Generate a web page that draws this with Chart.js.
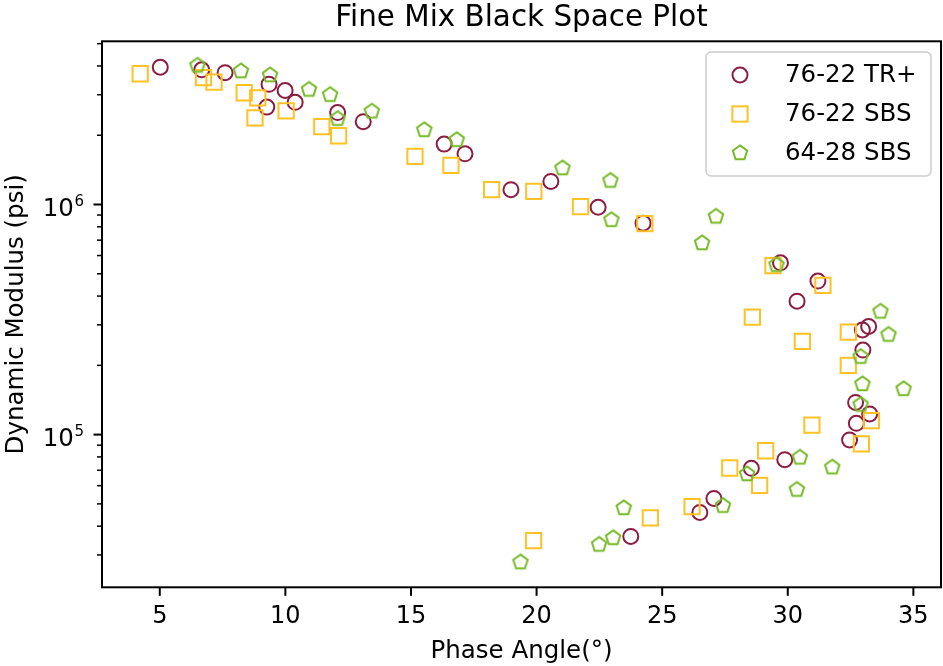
<!DOCTYPE html>
<html>
<head>
<meta charset="utf-8">
<script src="https://cdn.jsdelivr.net/npm/chart.js@4/dist/chart.umd.min.js"></script>
<style>
  html, body { margin: 0; padding: 0; background: #fff; }
  #wrap { width: 943px; height: 666px; }
</style>
</head>
<body>
<div id="wrap"><canvas id="c" width="943" height="666"></canvas></div>
<script>
// Phase angle (deg) and dynamic modulus (psi) for each mix
const trPhase = [5.02, 6.67, 7.60, 9.35, 9.99, 10.39, 9.26, 12.08, 13.10, 16.32, 17.15, 18.98, 20.57, 22.45, 24.24,
  29.71, 31.20, 30.37, 33.22, 32.97, 32.99, 32.70, 33.26, 32.73, 32.46, 29.88, 28.55, 27.06, 26.50, 23.75];
const trModulus = [3.95e6, 3.85e6, 3.74e6, 3.33e6, 3.13e6, 2.78e6, 2.65e6, 2.51e6, 2.29e6, 1.83e6, 1.66e6, 1.16e6, 1.26e6, 9.73e5, 8.30e5,
  5.58e5, 4.65e5, 3.80e5, 2.95e5, 2.85e5, 2.33e5, 1.38e5, 1.23e5, 1.12e5, 9.48e4, 7.78e4, 7.14e4, 5.28e4, 4.59e4, 3.61e4];

const sbs7622Phase = [4.22, 6.74, 7.16, 8.36, 8.90, 8.79, 10.03, 11.45, 12.12, 15.16, 16.59, 18.21, 19.89, 21.75, 24.31,
  29.41, 31.40, 28.59, 30.58, 32.41, 32.41, 33.33, 32.93, 30.96, 29.12, 27.69, 28.88, 26.19, 24.53, 19.88];
const sbs7622Modulus = [3.70e6, 3.56e6, 3.40e6, 3.06e6, 2.91e6, 2.38e6, 2.55e6, 2.18e6, 1.99e6, 1.62e6, 1.48e6, 1.16e6, 1.14e6, 9.80e5, 8.25e5,
  5.43e5, 4.45e5, 3.24e5, 2.54e5, 2.79e5, 2.00e5, 1.15e5, 9.12e4, 1.10e5, 8.51e4, 7.16e4, 6.02e4, 4.86e4, 4.35e4, 3.46e4];

const sbs6428Phase = [6.50, 8.23, 9.39, 10.94, 11.78, 12.08, 13.44, 15.53, 16.82, 21.03, 22.94, 22.98, 26.59, 27.14, 29.55,
  33.69, 34.01, 32.90, 32.97, 34.61, 32.90, 30.48, 31.77, 28.38, 30.36, 27.42, 23.47, 23.05, 22.49, 19.36];
const sbs6428Modulus = [4.02e6, 3.80e6, 3.65e6, 3.16e6, 3.00e6, 2.36e6, 2.54e6, 2.11e6, 1.91e6, 1.44e6, 1.27e6, 8.58e5, 6.80e5, 8.87e5, 5.47e5,
  3.43e5, 2.72e5, 2.18e5, 1.66e5, 1.58e5, 1.35e5, 7.96e4, 7.21e4, 6.74e4, 5.77e4, 4.91e4, 4.80e4, 3.56e4, 3.33e4, 2.79e4];

const seriesNames = ['76-22 TR+', '76-22 SBS', '64-28 SBS'];
const chartTitle = 'Fine Mix Black Space Plot';
const xTickValues = [5, 10, 15, 20, 25, 30, 35];
const yMajorTicks = [1e5, 1e6];
const yMinorTicks = [3e4, 4e4, 5e4, 6e4, 7e4, 8e4, 9e4, 2e5, 3e5, 4e5, 5e5, 6e5, 7e5, 8e5, 9e5, 2e6, 3e6, 4e6, 5e6];

const FONT = '"DejaVu Sans", "Liberation Sans", sans-serif';
const MAROON = '#8c1c42';
const GOLD = '#ffc125';
const GREEN = '#78bb2a';

function toPoints(xs, ys) { return xs.map((x, i) => ({ x: x, y: ys[i] })); }

// Outlined pentagon marker rendered once and used as an image point style
function pentagonMarker(color, r, lw) {
  const size = 22;
  const cv = document.createElement('canvas');
  cv.width = size; cv.height = size;
  const g = cv.getContext('2d');
  const c = size / 2;
  g.beginPath();
  for (let i = 0; i < 5; i++) {
    const a = -Math.PI / 2 + i * 2 * Math.PI / 5;
    const px = c + r * Math.cos(a), py = c + r * Math.sin(a);
    if (i === 0) g.moveTo(px, py); else g.lineTo(px, py);
  }
  g.closePath();
  g.lineWidth = lw;
  g.lineJoin = 'miter';
  g.strokeStyle = color;
  g.stroke();
  return cv;
}
const pentagon = pentagonMarker(GREEN, 7.6, 2);

// Title, frame, tick marks, tick labels and the legend box
const decorations = {
  id: 'decorations',
  afterDatasetsDraw(chart) {
    const ctx = chart.ctx, ca = chart.chartArea;
    const xs = chart.scales.x, ys = chart.scales.y;
    ctx.save();
    ctx.strokeStyle = '#000';
    ctx.fillStyle = '#000';
    ctx.lineCap = 'butt';
    // title centred over the plot area
    ctx.font = '29.4px ' + FONT;
    ctx.textAlign = 'center';
    ctx.textBaseline = 'middle';
    ctx.fillText(chartTitle, (ca.left + ca.right) / 2, 18);
    // x ticks and labels
    ctx.lineWidth = 2;
    ctx.font = '24px ' + FONT;
    xTickValues.forEach(v => {
      const px = xs.getPixelForValue(v);
      ctx.beginPath(); ctx.moveTo(px, ca.bottom); ctx.lineTo(px, ca.bottom + 8.5); ctx.stroke();
      ctx.fillText(String(v), px, ca.bottom + 29.5);
    });
    // y major ticks
    yMajorTicks.forEach(v => {
      const py = ys.getPixelForValue(v);
      ctx.beginPath(); ctx.moveTo(ca.left, py); ctx.lineTo(ca.left - 8.5, py); ctx.stroke();
    });
    // y minor ticks
    ctx.lineWidth = 1.5;
    yMinorTicks.forEach(v => {
      const py = ys.getPixelForValue(v);
      if (py < ca.top - 0.5 || py > ca.bottom + 0.5) return;
      ctx.beginPath(); ctx.moveTo(ca.left, py); ctx.lineTo(ca.left - 5, py); ctx.stroke();
    });
    // frame
    ctx.lineWidth = 2;
    ctx.strokeRect(ca.left, ca.top, ca.right - ca.left, ca.bottom - ca.top);
    // y tick labels as 10 with a raised exponent
    ctx.textAlign = 'left';
    ctx.textBaseline = 'alphabetic';
    yMajorTicks.forEach(v => {
      const py = ys.getPixelForValue(v);
      const exp = String(Math.round(Math.log10(v)));
      const right = ca.left - 18;
      ctx.font = '15px ' + FONT;
      const ew = ctx.measureText(exp).width;
      ctx.fillText(exp, right - ew, py + 1.8);
      ctx.font = '24.5px ' + FONT;
      const bw = ctx.measureText('10').width;
      ctx.fillText('10', right - ew - bw - 0.5, py + 11);
    });
    ctx.restore();
  },
  afterDraw(chart) {
    const ctx = chart.ctx, ca = chart.chartArea;
    const w = 225, h = 124;
    const bx = ca.right - 10 - w, by = ca.top + 10.7;
    ctx.save();
    ctx.beginPath();
    if (ctx.roundRect) ctx.roundRect(bx, by, w, h, 5); else ctx.rect(bx, by, w, h);
    ctx.fillStyle = 'rgba(255,255,255,0.85)';
    ctx.fill();
    ctx.lineWidth = 1.5;
    ctx.strokeStyle = '#cccccc';
    ctx.stroke();
    chart.data.datasets.forEach((ds, i) => {
      const my = by + 23 + i * 39;
      const mx = bx + 34;
      ctx.lineWidth = ds.borderWidth;
      ctx.strokeStyle = ds.borderColor;
      if (ds.pointStyle === 'circle') {
        ctx.beginPath(); ctx.arc(mx, my, ds.pointRadius, 0, Math.PI * 2); ctx.stroke();
      } else if (ds.pointStyle === 'rect') {
        const s = Math.SQRT1_2 * ds.pointRadius;
        ctx.strokeRect(mx - s, my - s, 2 * s, 2 * s);
      } else {
        const img = ds.pointStyle;
        ctx.drawImage(img, mx - img.width / 2, my - img.height / 2);
      }
      ctx.fillStyle = '#000';
      ctx.font = '24.5px ' + FONT;
      ctx.textAlign = 'left';
      ctx.textBaseline = 'middle';
      ctx.fillText(ds.label, bx + 79, my + 1);
    });
    ctx.restore();
  }
};

new Chart(document.getElementById('c'), {
  type: 'scatter',
  data: {
    datasets: [
      { label: seriesNames[0], data: toPoints(trPhase, trModulus), pointStyle: 'circle', pointRadius: 7.5,
        borderColor: MAROON, borderWidth: 2, backgroundColor: 'rgba(0,0,0,0)', order: 3 },
      { label: seriesNames[1], data: toPoints(sbs7622Phase, sbs7622Modulus), pointStyle: 'rect', pointRadius: 10.8,
        borderColor: GOLD, borderWidth: 2, backgroundColor: 'rgba(0,0,0,0)', order: 2 },
      { label: seriesNames[2], data: toPoints(sbs6428Phase, sbs6428Modulus), pointStyle: pentagon, pointRadius: 7.6,
        borderColor: GREEN, borderWidth: 2, backgroundColor: 'rgba(0,0,0,0)', order: 1 }
    ]
  },
  options: {
    responsive: false,
    animation: false,
    devicePixelRatio: 1,
    layout: { autoPadding: false, padding: { top: 41.3, right: 2, bottom: 0, left: 0 } },
    plugins: {
      legend: { display: false },
      tooltip: { enabled: false },
      title: { display: false }
    },
    scales: {
      x: {
        type: 'linear',
        min: 2.7,
        max: 36.1,
        afterFit: s => { s.height = 78.7; },
        ticks: { display: false },
        grid: { display: false, drawTicks: false },
        border: { display: false },
        title: { display: true, text: 'Phase Angle(°)', color: '#000', font: { family: FONT, size: 24.5 },
          padding: { top: 0, bottom: 0 } }
      },
      y: {
        type: 'logarithmic',
        min: 2.17e4,
        max: 5.12e6,
        afterFit: s => { s.width = 102; },
        ticks: { display: false },
        grid: { display: false, drawTicks: false },
        border: { display: false },
        title: { display: true, text: 'Dynamic Modulus (psi)', color: '#000', font: { family: FONT, size: 24.5 },
          padding: { top: 2, bottom: 0 } }
      }
    }
  },
  plugins: [decorations]
});
</script>
</body>
</html>
